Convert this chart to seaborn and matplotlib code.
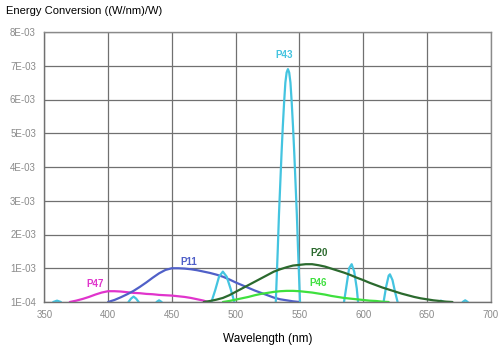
import numpy as np
import pandas as pd
import matplotlib
matplotlib.use("Agg")
import matplotlib.pyplot as plt
import seaborn as sns

# ---- data (values in units of 1E-03 (W/nm)/W; baseline shown as 1E-04) ----
p47_wl = [370, 375, 380, 385, 390, 395, 400, 405, 410, 415, 420, 425, 430, 435, 440,
          445, 450, 455, 460, 465, 470, 475, 478]
p47_val = [0.0, 0.04, 0.09, 0.15, 0.22, 0.28, 0.32, 0.32, 0.31, 0.29, 0.27, 0.26, 0.24,
           0.23, 0.21, 0.20, 0.19, 0.17, 0.15, 0.12, 0.08, 0.04, 0.0]

p11_wl = [400, 405, 410, 415, 420, 425, 430, 435, 440, 445, 450, 455, 460, 465, 470,
          475, 480, 485, 490, 495, 500, 505, 510, 515, 520, 525, 530, 535, 540, 545, 550]
p11_val = [0.0, 0.06, 0.14, 0.23, 0.33, 0.45, 0.58, 0.72, 0.85, 0.95, 1.0, 1.0, 0.99, 0.97,
           0.94, 0.9, 0.86, 0.81, 0.75, 0.67, 0.58, 0.5, 0.42, 0.34, 0.27, 0.2, 0.13,
           0.08, 0.05, 0.02, 0.0]

p20_wl = [475, 480, 485, 490, 495, 500, 505, 510, 515, 520, 525, 530, 535, 540, 545,
          550, 555, 560, 565, 570, 575, 580, 585, 590, 595, 600, 605, 610, 615, 620,
          625, 630, 635, 640, 645, 650, 655, 660, 665, 670]
p20_val = [0.0, 0.03, 0.07, 0.12, 0.2, 0.3, 0.4, 0.5, 0.6, 0.7, 0.8, 0.9, 0.97, 1.03, 1.08,
           1.1, 1.12, 1.12, 1.09, 1.05, 0.99, 0.93, 0.87, 0.8, 0.72, 0.65, 0.57, 0.5,
           0.43, 0.37, 0.31, 0.25, 0.2, 0.15, 0.11, 0.08, 0.05, 0.03, 0.01, 0.0]

p46_wl = [490, 495, 500, 505, 510, 515, 520, 525, 530, 535, 540, 545, 550, 555, 560,
          565, 570, 575, 580, 585, 590, 595, 600, 605, 610, 615, 620]
p46_val = [0.0, 0.03, 0.07, 0.11, 0.15, 0.2, 0.24, 0.27, 0.3, 0.32, 0.33, 0.33, 0.32,
           0.3, 0.28, 0.25, 0.22, 0.18, 0.15, 0.12, 0.1, 0.08, 0.06, 0.04, 0.03, 0.01, 0.0]

# P43 consists of narrow emission lines (separate peaks)
p43_wl = [357, 360, 363,
          416, 418, 420, 422, 424,
          438, 440, 442,
          481, 484, 487, 490, 493, 496, 499,
          531.5, 532, 533, 534, 535, 536, 537, 538, 539, 540, 541, 542, 543, 544, 545,
          546, 547, 548, 549, 550, 550.5,
          585, 587, 589, 591, 593, 595, 596,
          616, 618, 620, 621, 623, 625, 627,
          659, 661, 663,
          678, 680, 682]
p43_val = [0.0, 0.04, 0.0,
           0.0, 0.1, 0.16, 0.1, 0.0,
           0.0, 0.05, 0.0,
           0.0, 0.35, 0.75, 0.9, 0.75, 0.4, 0.0,
           0.0, 0.5, 1.5, 2.6, 3.5, 4.4, 5.2, 5.9, 6.5, 6.8, 6.9, 6.8, 6.5, 5.9, 5.2,
           4.4, 3.5, 2.6, 1.5, 0.5, 0.0,
           0.0, 0.5, 1.0, 1.12, 0.9, 0.4, 0.0,
           0.0, 0.45, 0.78, 0.82, 0.65, 0.3, 0.0,
           0.0, 0.04, 0.0,
           0.0, 0.05, 0.0]
p43_seg = [1] * 3 + [2] * 5 + [3] * 3 + [4] * 7 + [5] * 21 + [6] * 7 + [7] * 7 + [8] * 3 + [9] * 3

names = ["P47", "P11", "P43", "P20", "P46"]
colors = {"P47": "#e034cc", "P11": "#5060c8", "P43": "#44c4e0",
          "P20": "#2b6a2e", "P46": "#3ee03e"}
label_pos = {"P47": (390, 0.53), "P11": (463.5, 1.19), "P43": (538, 7.33),
             "P20": (565.5, 1.45), "P46": (565, 0.56)}

x_ticks = [350, 400, 450, 500, 550, 600, 650, 700]
y_ticks = [0, 1, 2, 3, 4, 5, 6, 7, 8]
y_tick_labels = ["1E-04", "1E-03", "2E-03", "3E-03", "4E-03", "5E-03", "6E-03", "7E-03", "8E-03"]

# ---- build long-form table ----
frames = []
for nm, wl, val, seg in [("P47", p47_wl, p47_val, None), ("P11", p11_wl, p11_val, None),
                         ("P43", p43_wl, p43_val, p43_seg),
                         ("P20", p20_wl, p20_val, None), ("P46", p46_wl, p46_val, None)]:
    d = pd.DataFrame({"wl": wl, "val": val})
    d["name"] = nm
    d["seg"] = [f"{nm}-{s}" for s in seg] if seg is not None else f"{nm}-0"
    frames.append(d)
df = pd.concat(frames, ignore_index=True)

sns.set_style("white")
plt.rcParams["font.family"] = ["Liberation Sans", "DejaVu Sans"]

fig = plt.figure(figsize=(5.04, 3.47), dpi=100)
ax = fig.add_axes([44.3 / 504, 1 - 302 / 347, (490.7 - 44.3) / 504, (302 - 32) / 347])

sns.lineplot(data=df, x="wl", y="val", hue="name", units="seg", estimator=None,
             palette=colors, hue_order=names, sort=False, linewidth=1.6,
             legend=False, ax=ax)

ax.set_xlim(350, 700)
ax.set_ylim(0, 8)
ax.set_xticks(x_ticks)
ax.set_yticks(y_ticks)
ax.set_yticklabels(y_tick_labels)
ax.tick_params(axis="both", length=0, labelsize=7, labelcolor="#8a8a8a", pad=6)
ax.grid(True, color="#707070", linewidth=0.9)
ax.set_axisbelow(True)
for sp in ax.spines.values():
    sp.set_color("#8a8a8a")
    sp.set_linewidth(1.0)
ax.spines["left"].set_color("#707070")
ax.spines["bottom"].set_color("#707070")
ax.set_xlabel("Wavelength (nm)", fontsize=8.5, color="black", labelpad=9)
ax.set_ylabel("")

for nm in names:
    x, y = label_pos[nm]
    ax.text(x, y, nm, color=colors[nm], fontsize=7, fontweight="bold",
            ha="center", va="center")

fig.text(6 / 504, 1 - 11 / 347, "Energy Conversion ((W/nm)/W)", fontsize=8,
         color="black", ha="left", va="center")

fig.savefig("out.png", dpi=100)
